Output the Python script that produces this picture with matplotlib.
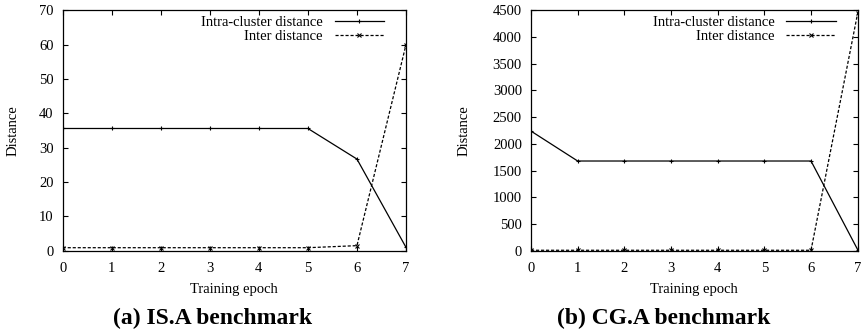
import matplotlib
matplotlib.use("Agg")
import matplotlib.pyplot as plt

plt.rcParams['font.family'] = ['Liberation Serif', 'DejaVu Serif']

epochs = [0, 1, 2, 3, 4, 5, 6, 7]

is_intra = [35.6, 35.6, 35.6, 35.6, 35.6, 35.6, 26.7, 1.0]
is_inter = [0.9, 0.9, 0.9, 0.9, 0.9, 0.9, 1.5, 60.0]

cg_intra = [2240, 1680, 1680, 1680, 1680, 1680, 1680, 20]
cg_inter = [10, 10, 10, 10, 10, 10, 10, 4450]

is_yticks = [0, 10, 20, 30, 40, 50, 60, 70]
cg_yticks = [0, 500, 1000, 1500, 2000, 2500, 3000, 3500, 4000, 4500]

captions = ["(a) IS.A benchmark", "(b) CG.A benchmark"]

W, H = 862, 334
fig = plt.figure(figsize=(W / 100, H / 100), dpi=100)

def px_axes(x0, x1, y0, y1):
    return fig.add_axes([x0 / W, 1 - y1 / H, (x1 - x0) / W, (y1 - y0) / H])

boxes = [(62.7, 406), (531, 857.7)]
ax1 = px_axes(*boxes[0], 10.3, 250.8)
ax2 = px_axes(*boxes[1], 10.3, 250.8)

panels = [
    (ax1, is_intra, is_inter, is_yticks, 70, 12.7, 213),
    (ax2, cg_intra, cg_inter, cg_yticks, 4500, 464, 664),
]

FS = 10.5

for i, (ax, intra, inter, yt, ymax, ylab_x, cap_x) in enumerate(panels):
    x0, x1 = boxes[i]
    ax.plot(epochs, intra, color='black', lw=0.9, marker='+', ms=3, mew=0.8,
            label='Intra-cluster distance')
    ax.plot(epochs, inter, color='black', lw=0.9, ls=(0, (2.5, 1.5)),
            marker='x', ms=2.5, mew=0.8, label='Inter distance')
    ax.set_xlim(0, 7)
    ax.set_ylim(0, ymax)
    ax.set_xticks(epochs)
    ax.set_yticks(yt)
    ax.tick_params(direction='in', top=True, right=True, length=3.5, width=0.8,
                   labelsize=FS)
    ax.tick_params(axis='x', pad=8)
    ax.tick_params(axis='y', pad=6.5)
    for s in ax.spines.values():
        s.set_linewidth(0.9)
    ax.set_xlabel('Training epoch', fontsize=FS, labelpad=6)
    ax.set_ylabel('Distance', fontsize=FS)
    ax.yaxis.label.set_va('center')
    ax.yaxis.set_label_coords((ylab_x - x0) / (x1 - x0), 0.5)
    leg = ax.legend(loc='upper right', frameon=False, markerfirst=False,
                    fontsize=FS, handlelength=3.4, handletextpad=0.8,
                    labelspacing=0.05, borderaxespad=0.0,
                    bbox_to_anchor=((x1 - 16 - x0) / (x1 - x0), 1.0))
    for t in leg.get_texts():
        t.set_ha('right')
    fig.text(cap_x / W, 1 - 318 / H, captions[i], ha='center', va='center',
             fontsize=17, fontweight='bold')

fig.savefig('out.png', dpi=100)
